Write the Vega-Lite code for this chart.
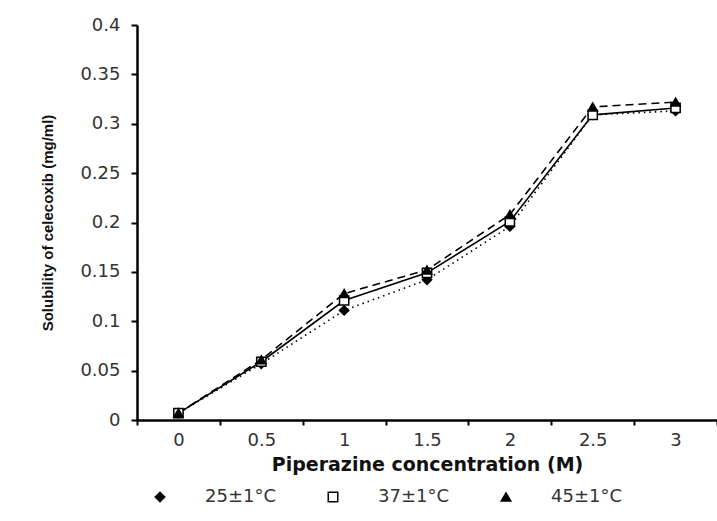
{
  "$schema": "https://vega.github.io/schema/vega-lite/v6.json",
  "width": 580,
  "height": 395,
  "autosize": {"type": "none"},
  "padding": {"left": 137, "top": 25, "right": 0, "bottom": 101},
  "background": "white",
  "config": {
    "view": {"stroke": null},
    "font": "DejaVu Sans",
    "legend": {
      "title": null,
      "orient": "none",
      "direction": "horizontal",
      "legendX": 14,
      "legendY": 463,
      "labelFontSize": 18,
      "labelColor": "#333",
      "labelOffset": 36,
      "columnPadding": 47,
      "symbolSize": 90,
      "symbolStrokeColor": "black",
      "symbolStrokeWidth": 1.5,
      "symbolOpacity": 1
    }
  },
  "data": {
    "values": [
      {"conc": "0", "temp": "25±1°C", "sol": 0.007},
      {"conc": "0.5", "temp": "25±1°C", "sol": 0.057},
      {"conc": "1", "temp": "25±1°C", "sol": 0.111},
      {"conc": "1.5", "temp": "25±1°C", "sol": 0.142},
      {"conc": "2", "temp": "25±1°C", "sol": 0.196},
      {"conc": "2.5", "temp": "25±1°C", "sol": 0.309},
      {"conc": "3", "temp": "25±1°C", "sol": 0.313},
      {"conc": "0", "temp": "37±1°C", "sol": 0.007},
      {"conc": "0.5", "temp": "37±1°C", "sol": 0.059},
      {"conc": "1", "temp": "37±1°C", "sol": 0.121},
      {"conc": "1.5", "temp": "37±1°C", "sol": 0.149},
      {"conc": "2", "temp": "37±1°C", "sol": 0.201},
      {"conc": "2.5", "temp": "37±1°C", "sol": 0.309},
      {"conc": "3", "temp": "37±1°C", "sol": 0.316},
      {"conc": "0", "temp": "45±1°C", "sol": 0.007},
      {"conc": "0.5", "temp": "45±1°C", "sol": 0.061},
      {"conc": "1", "temp": "45±1°C", "sol": 0.128},
      {"conc": "1.5", "temp": "45±1°C", "sol": 0.152},
      {"conc": "2", "temp": "45±1°C", "sol": 0.208},
      {"conc": "2.5", "temp": "45±1°C", "sol": 0.317},
      {"conc": "3", "temp": "45±1°C", "sol": 0.322}
    ]
  },
  "encoding": {
    "x": {
      "field": "conc",
      "type": "ordinal",
      "bandPosition": 0.5,
      "scale": {"type": "band", "paddingInner": 0, "paddingOuter": 0},
      "axis": {
        "title": "Piperazine concentration (M)",
        "titleFont": "DejaVu Sans",
        "titleFontSize": 19,
        "titleFontWeight": "bold",
        "titleColor": "#111",
        "titlePadding": 6,
        "labelAngle": 0,
        "labelFontSize": 18,
        "labelColor": "#333",
        "labelPadding": 6,
        "tickBand": "extent",
        "tickSize": 5,
        "tickWidth": 2,
        "tickColor": "black",
        "domainColor": "black",
        "domainWidth": 2.5
      }
    },
    "y": {
      "field": "sol",
      "type": "quantitative",
      "scale": {"domain": [0, 0.4]},
      "axis": {
        "title": "Solubility of celecoxib (mg/ml)",
        "titleFont": "Liberation Sans",
        "titleFontSize": 15,
        "titleFontWeight": "bold",
        "titleColor": "#111",
        "titlePadding": 24,
        "values": [0, 0.05, 0.1, 0.15, 0.2, 0.25, 0.3, 0.35, 0.4],
        "format": "~g",
        "grid": false,
        "labelFontSize": 18,
        "labelColor": "#333",
        "labelPadding": 11,
        "tickSize": 6,
        "tickWidth": 2,
        "tickColor": "black",
        "domainColor": "black",
        "domainWidth": 2.5
      }
    }
  },
  "layer": [
    {
      "transform": [{"filter": "datum.temp === '25±1°C'"}],
      "mark": {"type": "line", "color": "black", "strokeWidth": 1.6, "strokeDash": [1.5, 4]},
      "encoding": {}
    },
    {
      "transform": [{"filter": "datum.temp === '37±1°C'"}],
      "mark": {"type": "line", "color": "black", "strokeWidth": 1.6},
      "encoding": {}
    },
    {
      "transform": [{"filter": "datum.temp === '45±1°C'"}],
      "mark": {"type": "line", "color": "black", "strokeWidth": 1.6, "strokeDash": [8, 5]},
      "encoding": {}
    },
    {
      "mark": {"type": "point", "filled": true, "stroke": "black", "strokeWidth": 1.5, "opacity": 1},
      "encoding": {
        "shape": {
          "field": "temp",
          "type": "nominal",
          "scale": {"domain": ["25±1°C", "37±1°C", "45±1°C"], "range": ["diamond", "square", "triangle-up"]},
          "legend": {
            "encode": {
              "symbols": {
                "update": {
                  "stroke": {"value": "black"},
                  "strokeWidth": {"value": 1.5}
                }
              }
            }
          }
        },
        "fill": {
          "field": "temp",
          "type": "nominal",
          "scale": {"domain": ["25±1°C", "37±1°C", "45±1°C"], "range": ["black", "white", "black"]},
          "legend": {
            "encode": {
              "symbols": {
                "update": {
                  "stroke": {"value": "black"},
                  "strokeWidth": {"value": 1.5}
                }
              }
            }
          }
        },
        "stroke": {"value": "black"},
        "size": {"value": 85}
      }
    }
  ]
}
